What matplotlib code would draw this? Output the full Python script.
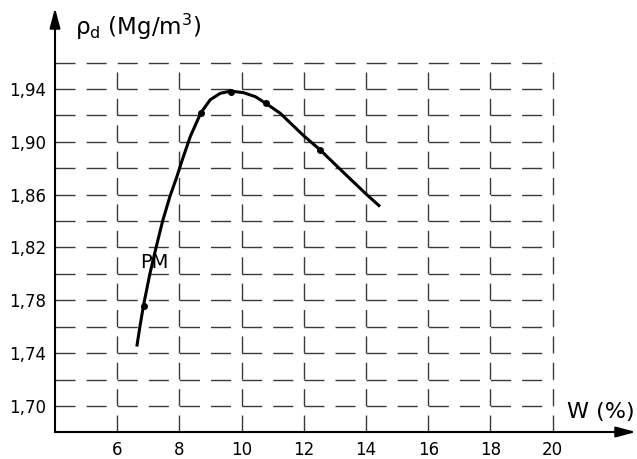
import numpy as np
import matplotlib

matplotlib.use("Agg")
import matplotlib.pyplot as plt

plt.rcParams["font.family"] = ["DejaVu Sans"]
plt.rcParams["lines.scale_dashes"] = False
plt.rcParams["mathtext.default"] = "regular"

# measured points (water content %, dry density Mg/m3)
w_pts = [6.85, 8.69, 9.65, 10.78, 12.52]
rho_pts = [1.776, 1.922, 1.938, 1.929, 1.894]

# hand-drawn compaction curve
w_curve = [6.63, 6.73, 6.84, 7.05, 7.25, 7.46, 7.70, 7.91, 8.08, 8.35, 8.69,
           8.99, 9.31, 9.65, 10.06, 10.44, 10.78, 11.24, 12.0, 12.52, 13.16,
           14.0, 14.45]
rho_curve = [1.745, 1.760, 1.7755, 1.800, 1.820, 1.840, 1.859, 1.873, 1.8855,
             1.904, 1.922, 1.9318, 1.9367, 1.9384, 1.9372, 1.9342, 1.9291,
             1.9216, 1.9045, 1.894, 1.8794, 1.8605, 1.851]

x_ticks = [6, 8, 10, 12, 14, 16, 18, 20]
y_ticks = [1.70, 1.74, 1.78, 1.82, 1.86, 1.90, 1.94]
y_tick_labels = ["1,70", "1,74", "1,78", "1,82", "1,86", "1,90", "1,94"]
y_grid = [1.70, 1.72, 1.74, 1.76, 1.78, 1.80, 1.82, 1.84, 1.86, 1.88,
          1.90, 1.92, 1.94, 1.96]

W, H = 637, 459
fig = plt.figure(figsize=(W / 100, H / 100), dpi=100)
ax = fig.add_axes([55 / W, (H - 432) / H, (636 - 55) / W, (432 - 8) / H])
ax.set_xlim(4.0, 22.68)
ax.set_ylim(1.6803, 2.0013)

for s in ax.spines.values():
    s.set_visible(False)

# dashed grid
ax.hlines(y_grid, 4.0, x_ticks[-1], colors="#3a3a3a", lw=1.0,
          linestyles=[(0, (14.4, 8.0))], zorder=1)
ax.vlines(x_ticks, 1.6803, y_grid[-1], colors="#3a3a3a", lw=1.0,
          linestyles=[(0, (12.2, 6.8))], zorder=1)

ax.plot(w_curve, rho_curve, color="black", lw=2.2, solid_capstyle="butt",
        solid_joinstyle="round", zorder=3)
ax.plot(w_pts, rho_pts, "o", color="black", ms=4, zorder=4)

ax.set_xticks(x_ticks)
ax.set_xticklabels([str(v) for v in x_ticks])
ax.set_yticks(y_ticks)
ax.set_yticklabels(y_tick_labels)
ax.tick_params(length=0, labelsize=12, pad=6.5)

# axes with arrows
arrow = dict(arrowstyle="-|>,head_length=0.6,head_width=0.16", lw=1.5,
             color="black", mutation_scale=20, shrinkA=0, shrinkB=0)
ax.annotate("", xy=(1, 0), xytext=(0, 0), xycoords="axes fraction",
            arrowprops=arrow)
ax.annotate("", xy=(0, 1), xytext=(0, 0), xycoords="axes fraction",
            arrowprops=arrow)

ax.text(7.19, 1.809, "PM", fontsize=14, ha="center", va="center", zorder=2)

fig.text(75 / W, 1 - 35 / H, r"ρ$_\mathregular{d}$ (Mg/m$^\mathregular{3}$)",
         fontsize=16.5, ha="left", va="baseline")
fig.text(567 / W, 1 - 418 / H, "W (%)", fontsize=16, ha="left",
         va="baseline")

fig.savefig("out.png", dpi=100)
